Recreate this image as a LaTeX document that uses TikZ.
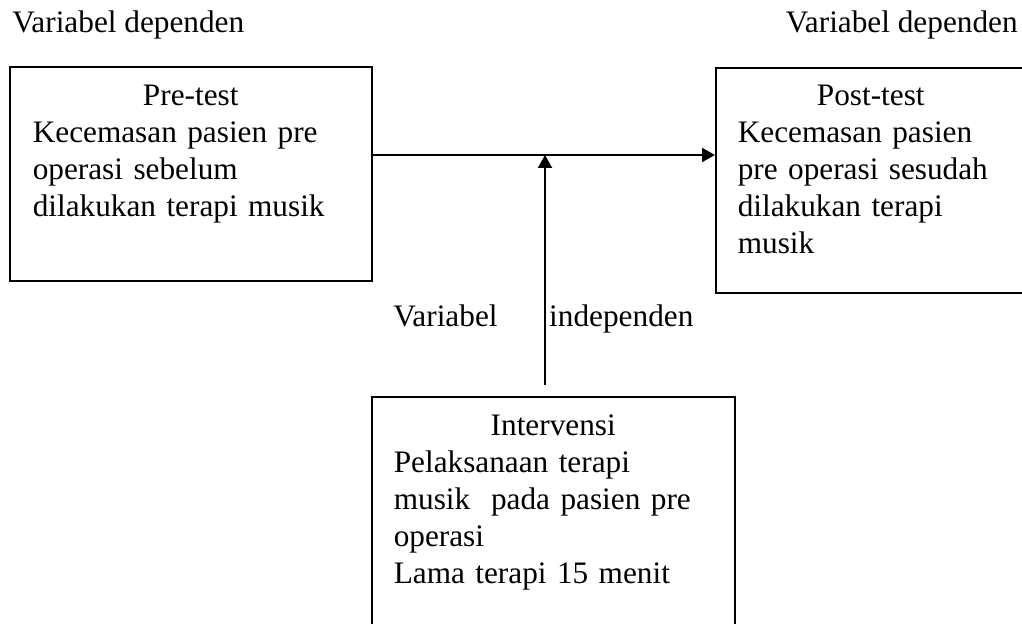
\documentclass[tikz,border=0pt]{standalone}
\usepackage{fontspec}
\setmainfont{Liberation Serif}
\usetikzlibrary{arrows.meta, positioning}

\begin{document}
\begin{tikzpicture}[
    x=0.02cm, y=-0.02cm,
    varbox/.style={rectangle, draw, line width=0.9pt, anchor=north west, align=left, inner xsep=0.44cm, inner ysep=0pt, text height=0.78cm, font=\fontsize{17.8}{21}\selectfont},
    varlabel/.style={inner sep=0pt, font=\fontsize{17.8}{21}\selectfont},
    line/.style={draw, line width=1.2pt, -{Triangle[length=0.26cm, width=0.28cm]}}
  ]
  \useasboundingbox (0,0) rectangle (1022,624);

  % Variabel dependen
  \node[varbox, text width=6.32cm, inner xsep=0.46cm, text depth=3.5cm] (pre) at (9,66)
    {{\centering Pre-test\par}Kecemasan pasien pre\\operasi sebelum\\dilakukan terapi musik};
  \node[varbox, text width=5.32cm, text height=0.76cm, text depth=3.74cm] (post) at (715,67)
    {{\centering Post-test\par}Kecemasan pasien\\pre operasi sesudah\\dilakukan terapi\\musik};
  \node[varlabel, anchor=base west] (deppre) at (12,33) {Variabel dependen};
  \node[varlabel, anchor=base east] (deppost) at (1018,33) {Variabel dependen};

  % Variabel independen
  \node[varbox, text width=6.38cm, text depth=4.3cm] (interv) at (371,396)
    {{\centering Intervensi\par}Pelaksanaan terapi\\musik \ pada pasien pre\\operasi\\Lama terapi 15 menit};
  \node[varlabel, anchor=base west] (indep1) at (393,327) {Variabel};
  \node[varlabel, base right=1.02cm of indep1] (indep2) {independen};

  \coordinate (join) at (545,155);
  \coordinate (tail) at (545,385);
  \path[line] (join -| pre.east) -- (join -| post.west);
  \path[line] (tail) -- (join);
\end{tikzpicture}
\end{document}
